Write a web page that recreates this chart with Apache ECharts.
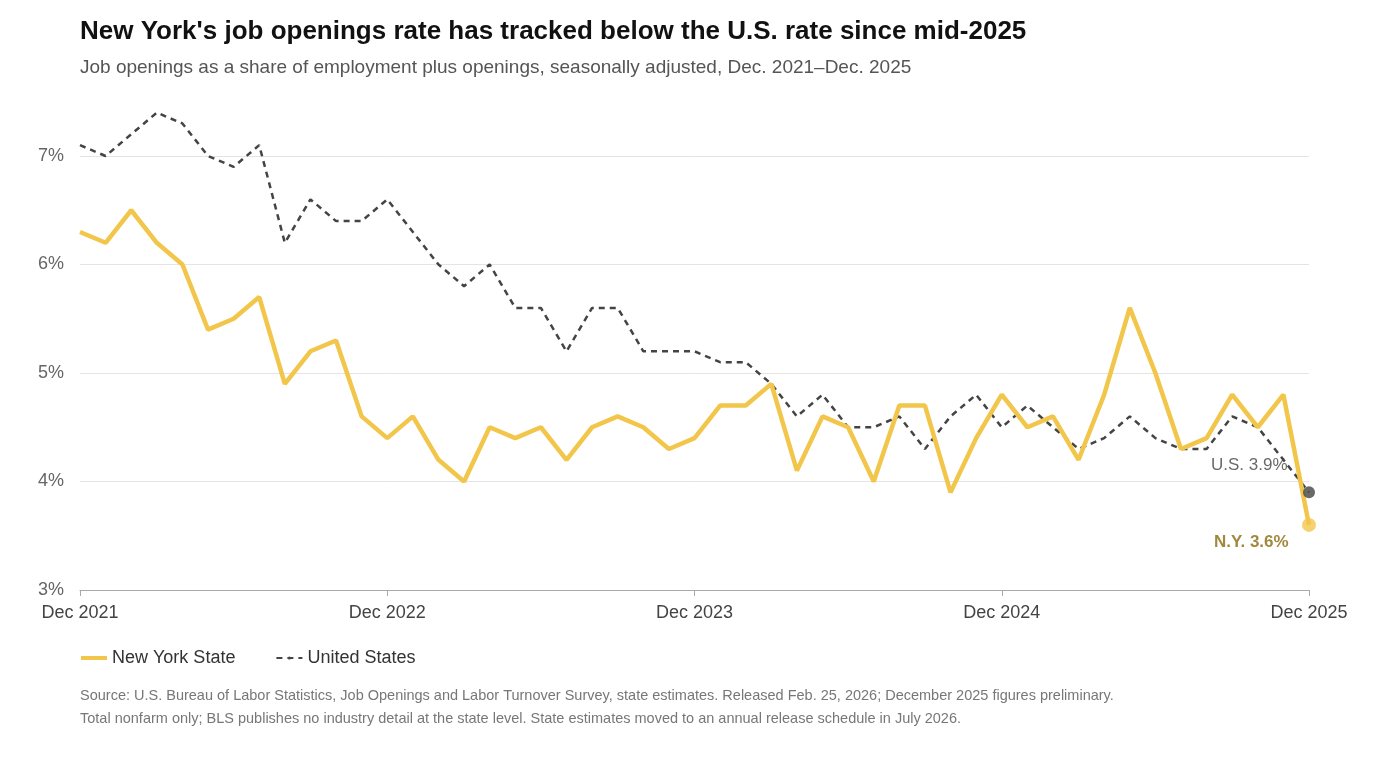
<!DOCTYPE html>
<html><head><meta charset="utf-8">
<script src="https://cdn.jsdelivr.net/npm/echarts@6/dist/echarts.min.js"></script>
<style>html,body{margin:0;padding:0;background:#fff}#c{width:1373px;height:759px}</style>
</head><body><div id="c"></div>
<script>
const xTicks = {0:'Dec 2021',12:'Dec 2022',24:'Dec 2023',36:'Dec 2024',48:'Dec 2025'};
const nyValues = [6.3,6.2,6.5,6.2,6.0,5.4,5.5,5.7,4.9,5.2,5.3,4.6,4.4,4.6,4.2,4.0,4.5,4.4,4.5,4.2,4.5,4.6,4.5,4.3,4.4,4.7,4.7,4.9,4.1,4.6,4.5,4.0,4.7,4.7,3.9,4.4,4.8,4.5,4.6,4.2,4.8,5.6,5.0,4.3,4.4,4.8,4.5,4.8,3.6];
const usValues = [7.1,7.0,7.2,7.4,7.3,7.0,6.9,7.1,6.2,6.6,6.4,6.4,6.6,6.3,6.0,5.8,6.0,5.6,5.6,5.2,5.6,5.6,5.2,5.2,5.2,5.1,5.1,4.9,4.6,4.8,4.5,4.5,4.6,4.3,4.6,4.8,4.5,4.7,4.5,4.3,4.4,4.6,4.4,4.3,4.3,4.6,4.5,4.2,3.9];
const NY='#f2c54b', US='#444444';
const ff='Liberation Sans, Arial, sans-serif';
const ny = nyValues.map((v,i)=>[i,v]), us = usValues.map((v,i)=>[i,v]);
const last = nyValues.length-1;
const chart = echarts.init(document.getElementById('c'));
chart.setOption({
  animation:false,
  textStyle:{fontFamily:ff},
  title:[{text:"New York's job openings rate has tracked below the U.S. rate since mid-2025",left:75,top:14,textStyle:{fontSize:26,fontWeight:'bold',color:'#111',fontFamily:ff}},
    {text:'Job openings as a share of employment plus openings, seasonally adjusted, Dec. 2021–Dec. 2025',left:75,top:53,textStyle:{fontSize:19,fontWeight:'normal',color:'#555',fontFamily:ff}}],
  grid:{left:80,right:64,top:156,bottom:169},
  legend:{left:76,top:644,itemWidth:26,itemHeight:4,itemGap:40,textStyle:{fontSize:18,color:'#333'},
    data:[{name:'New York State',icon:'rect'},{name:'United States',itemStyle:{color:US}}]},
  xAxis:{type:'value',min:0,max:48,interval:12,splitLine:{show:false},
    axisLine:{lineStyle:{color:'#aaa'}},axisTick:{show:true,length:6,lineStyle:{color:'#aaa'}},
    axisLabel:{formatter:v=>xTicks[v]||'',fontSize:18,color:'#444',margin:14}},
  yAxis:{type:'value',min:3,max:7,interval:1,axisLine:{show:false},axisTick:{show:false},
    splitLine:{lineStyle:{color:'#e4e4e4'}},axisLabel:{formatter:'{value}%',fontSize:18,color:'#666',margin:16}},
  series:[
    {name:'United States',type:'line',data:us,symbol:'none',clip:false,z:2,
      lineStyle:{color:US,width:2.5,type:[6,5]},itemStyle:{color:US}},
    {name:'New York State',type:'line',data:ny,symbol:'none',clip:false,z:3,
      lineStyle:{color:NY,width:4.5},itemStyle:{color:NY}},
    {type:'scatter',data:[us[last]],symbolSize:12,itemStyle:{color:US},z:4,
      label:{show:true,position:[-92,-30],formatter:'U.S. 3.9%',fontSize:17,color:'#444'}},
    {type:'scatter',data:[ny[last]],symbolSize:14,itemStyle:{color:NY},z:5,
      label:{show:true,position:[-88,16],formatter:'N.Y. 3.6%',fontSize:17,fontWeight:'bold',color:'#8a6a0c'}}
  ],
  graphic:[{type:'text',left:80,top:684,style:{text:'Source: U.S. Bureau of Labor Statistics, Job Openings and Labor Turnover Survey, state estimates. Released Feb. 25, 2026; December 2025 figures preliminary.\nTotal nonfarm only; BLS publishes no industry detail at the state level. State estimates moved to an annual release schedule in July 2026.',fontSize:14.5,lineHeight:23,fill:'#777',fontFamily:ff}}]
});
</script></body></html>
